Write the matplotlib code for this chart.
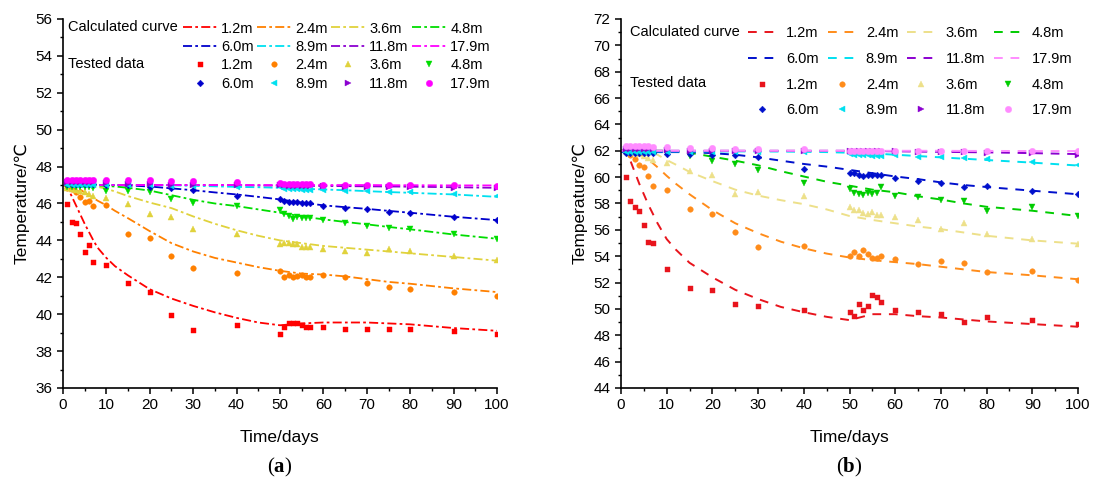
import matplotlib
matplotlib.use('Agg')
import matplotlib.pyplot as plt

plt.rcParams['font.family'] = ['Liberation Sans', 'DejaVu Sans']
plt.rcParams['mathtext.fontset'] = 'custom'
plt.rcParams['mathtext.rm'] = 'Liberation Serif'
plt.rcParams['mathtext.bf'] = 'Liberation Serif:bold'

depths = ['1.2m', '2.4m', '3.6m', '4.8m', '6.0m', '8.9m', '11.8m', '17.9m']

# times of the calculated curves and of the tested data (days)
t_calc = [0, 1, 2, 3, 4, 5, 6, 7, 8, 10, 12, 15, 20, 25, 30, 35, 40, 45, 50, 55, 60, 65, 70, 75, 80, 90, 100]
t_test = [1, 2, 3, 4, 5, 6, 7, 10, 15, 20, 25, 30, 40, 50, 51, 52, 53, 54, 55, 56, 57, 60, 65, 70, 75, 80, 90, 100]

# ---- panel (a) calculated curves
calc_a_12 = [47.0, 46.9, 46.4, 45.9, 45.4, 44.9, 44.45, 44.0, 43.6, 43.05, 42.6, 42.1, 41.35, 40.85, 40.45, 40.1, 39.8, 39.55, 39.4, 39.5, 39.55, 39.55, 39.55, 39.5, 39.45, 39.25, 39.1]
calc_a_24 = [47.0, 47.0, 46.95, 46.85, 46.75, 46.6, 46.45, 46.3, 46.15, 45.9, 45.6, 45.2, 44.5, 43.85, 43.4, 43.05, 42.8, 42.55, 42.35, 42.2, 42.15, 42.05, 41.9, 41.75, 41.65, 41.4, 41.2]
calc_a_36 = [47.0, 47.0, 47.0, 47.0, 46.98, 46.96, 46.94, 46.92, 46.9, 46.8, 46.65, 46.4, 46.05, 45.75, 45.3, 44.9, 44.55, 44.25, 44.0, 43.85, 43.7, 43.6, 43.5, 43.4, 43.3, 43.1, 42.9]
calc_a_48 = [47.0, 47.0, 47.0, 47.0, 47.0, 47.0, 47.0, 46.98, 46.97, 46.95, 46.92, 46.85, 46.7, 46.45, 46.2, 46.0, 45.86, 45.68, 45.5, 45.3, 45.14, 45.0, 44.87, 44.73, 44.6, 44.32, 44.09]
calc_a_60 = [47.0, 47.0, 47.0, 47.0, 47.0, 47.0, 47.0, 47.0, 47.0, 47.0, 47.0, 46.98, 46.92, 46.82, 46.72, 46.6, 46.49, 46.36, 46.22, 46.05, 45.9, 45.8, 45.71, 45.6, 45.5, 45.28, 45.1]
calc_a_89 = [47.0, 47.0, 47.0, 47.0, 47.0, 47.0, 47.0, 47.0, 47.0, 47.0, 47.0, 47.0, 47.0, 46.98, 46.96, 46.93, 46.9, 46.88, 46.85, 46.8, 46.76, 46.72, 46.67, 46.62, 46.58, 46.49, 46.36]
calc_a_118 = [47.0, 47.0, 47.0, 47.0, 47.0, 47.0, 47.0, 47.0, 47.0, 47.0, 47.0, 47.0, 47.0, 47.0, 47.0, 47.0, 47.0, 46.98, 46.97, 46.96, 46.95, 46.94, 46.93, 46.92, 46.91, 46.88, 46.85]
calc_a_179 = [47.0, 47.0, 47.0, 47.0, 47.0, 47.0, 47.0, 47.0, 47.0, 47.0, 47.0, 47.0, 47.0, 47.0, 47.0, 47.0, 47.0, 47.0, 47.0, 47.0, 47.0, 47.0, 47.0, 46.99, 46.99, 46.98, 46.98]

# ---- panel (a) tested data
test_a_12 = [45.95, 45.0, 44.95, 44.35, 43.35, 43.75, 42.85, 42.65, 41.7, 41.2, 39.95, 39.15, 39.42, 38.95, 39.32, 39.5, 39.5, 39.5, 39.4, 39.3, 39.3, 39.3, 39.2, 39.2, 39.2, 39.2, 39.1, 38.9]
test_a_24 = [46.85, 46.8, 46.6, 46.35, 46.1, 46.15, 45.85, 45.9, 44.32, 44.12, 43.15, 42.52, 42.25, 42.34, 41.99, 42.11, 41.99, 42.08, 42.1, 41.99, 41.99, 42.1, 42.0, 41.68, 41.5, 41.39, 41.21, 41.0]
test_a_36 = [46.85, 46.8, 46.75, 46.7, 46.6, 46.5, 46.4, 46.3, 45.98, 45.42, 45.28, 44.6, 44.34, 43.78, 43.87, 43.87, 43.78, 43.78, 43.66, 43.66, 43.66, 43.51, 43.42, 43.33, 43.51, 43.42, 43.15, 42.94]
test_a_48 = [46.9, 46.9, 46.88, 46.88, 46.87, 46.87, 46.86, 46.7, 46.67, 46.61, 46.26, 46.04, 45.86, 45.64, 45.41, 45.33, 45.17, 45.27, 45.23, 45.2, 45.2, 45.1, 44.92, 44.78, 44.69, 44.6, 44.32, 44.09]
test_a_60 = [47.07, 47.07, 47.07, 47.07, 47.07, 47.07, 47.07, 46.98, 46.98, 46.92, 46.85, 46.72, 46.43, 46.22, 46.13, 46.1, 46.08, 46.06, 46.04, 46.0, 46.0, 45.86, 45.77, 45.68, 45.55, 45.46, 45.28, 45.1]
test_a_89 = [47.02, 47.02, 47.02, 47.02, 47.02, 47.02, 47.02, 47.0, 47.0, 46.98, 46.95, 46.95, 46.9, 46.87, 46.8, 46.78, 46.77, 46.76, 46.75, 46.75, 46.75, 46.74, 46.7, 46.68, 46.63, 46.6, 46.5, 46.38]
test_a_118 = [47.15, 47.15, 47.15, 47.15, 47.15, 47.15, 47.15, 47.1, 47.05, 47.05, 47.02, 47.0, 47.0, 47.0, 46.98, 46.97, 46.97, 46.96, 46.96, 46.95, 46.95, 46.93, 46.92, 46.9, 46.9, 46.88, 46.86, 46.84]
test_a_179 = [47.3, 47.3, 47.3, 47.3, 47.3, 47.3, 47.3, 47.3, 47.28, 47.25, 47.22, 47.2, 47.17, 47.12, 47.08, 47.06, 47.05, 47.05, 47.05, 47.04, 47.04, 47.02, 47.0, 47.0, 46.98, 46.98, 46.98, 46.95]

# ---- panel (b) calculated curves
calc_b_12 = [62.0, 62.0, 61.3, 60.4, 59.5, 58.7, 57.9, 57.2, 56.5, 55.3, 54.5, 53.5, 52.4, 51.45, 50.75, 50.15, 49.75, 49.4, 49.15, 49.6, 49.6, 49.45, 49.35, 49.2, 49.05, 48.85, 48.65]
calc_b_24 = [62.0, 62.0, 62.0, 61.95, 61.8, 61.6, 61.35, 61.05, 60.75, 60.1, 59.5, 58.7, 57.5, 56.5, 55.75, 55.1, 54.6, 54.2, 53.9, 53.7, 53.55, 53.4, 53.2, 53.0, 52.8, 52.55, 52.25]
calc_b_36 = [62.0, 62.0, 62.0, 62.0, 62.0, 62.0, 61.95, 61.85, 61.7, 61.3, 60.95, 60.4, 59.7, 59.05, 58.6, 58.25, 57.95, 57.55, 57.05, 56.75, 56.5, 56.25, 56.05, 55.8, 55.55, 55.2, 54.95]
calc_b_48 = [62.0, 62.0, 62.0, 62.0, 62.0, 62.0, 62.0, 62.0, 62.0, 62.0, 61.95, 61.85, 61.55, 61.25, 60.9, 60.45, 60.05, 59.65, 59.35, 59.05, 58.85, 58.55, 58.3, 58.0, 57.75, 57.45, 57.05]
calc_b_60 = [61.9, 61.9, 61.9, 61.9, 61.9, 61.9, 61.9, 61.9, 61.9, 61.9, 61.9, 61.9, 61.82, 61.7, 61.5, 61.25, 61.0, 60.8, 60.55, 60.3, 60.05, 59.85, 59.6, 59.4, 59.25, 58.97, 58.7]
calc_b_89 = [61.95, 61.95, 61.95, 61.95, 61.95, 61.95, 61.95, 61.95, 61.95, 61.95, 61.95, 61.95, 61.95, 61.95, 61.95, 61.94, 61.92, 61.9, 61.85, 61.8, 61.7, 61.6, 61.5, 61.4, 61.3, 61.1, 60.88]
calc_b_118 = [62.0, 62.0, 62.0, 62.0, 62.0, 62.0, 62.0, 62.0, 62.0, 62.0, 62.0, 62.0, 62.0, 62.0, 62.0, 62.0, 62.0, 62.0, 62.0, 61.98, 61.96, 61.94, 61.92, 61.9, 61.88, 61.82, 61.75]
calc_b_179 = [62.0, 62.0, 62.0, 62.0, 62.0, 62.0, 62.0, 62.0, 62.0, 62.0, 62.0, 62.0, 62.0, 62.0, 62.0, 62.0, 62.0, 62.0, 62.0, 62.0, 62.0, 62.0, 62.0, 61.99, 61.99, 61.98, 61.98]

# ---- panel (b) tested data
test_b_12 = [60.0, 58.2, 57.7, 57.4, 56.35, 55.1, 55.0, 53.0, 51.62, 51.45, 50.34, 50.24, 49.93, 49.76, 49.45, 50.39, 49.93, 50.21, 51.02, 50.94, 50.5, 49.93, 49.76, 49.58, 49.0, 49.4, 49.15, 48.85]
test_b_24 = [61.9, 61.7, 61.4, 60.9, 60.75, 60.05, 59.35, 59.02, 57.6, 57.18, 55.8, 54.7, 54.78, 54.0, 54.3, 54.0, 54.5, 54.18, 53.85, 53.85, 54.0, 53.8, 53.42, 53.62, 53.5, 52.79, 52.91, 52.23]
test_b_36 = [61.95, 61.9, 61.85, 61.75, 61.6, 61.45, 61.3, 61.05, 60.45, 60.18, 58.75, 58.85, 58.6, 57.71, 57.5, 57.5, 57.3, 57.2, 57.37, 57.1, 57.1, 56.95, 56.78, 56.04, 56.5, 55.68, 55.28, 54.93]
test_b_48 = [61.92, 61.92, 61.9, 61.9, 61.88, 61.88, 61.85, 61.72, 61.6, 61.22, 60.96, 60.53, 59.58, 59.07, 58.82, 58.7, 58.65, 58.82, 58.7, 58.77, 59.22, 58.6, 58.5, 58.3, 58.2, 57.4, 57.75, 57.05]
test_b_60 = [61.8, 61.8, 61.8, 61.8, 61.8, 61.8, 61.8, 61.75, 61.75, 61.7, 61.65, 61.5, 60.64, 60.34, 60.34, 60.17, 60.05, 60.2, 60.17, 60.2, 60.17, 59.9, 59.67, 59.52, 59.22, 59.32, 58.92, 58.72]
test_b_89 = [61.88, 61.88, 61.88, 61.88, 61.88, 61.88, 61.88, 61.88, 61.88, 61.88, 61.88, 61.88, 61.88, 61.75, 61.7, 61.68, 61.65, 61.65, 61.63, 61.62, 61.62, 61.65, 61.55, 61.5, 61.42, 61.35, 61.12, 60.9]
test_b_118 = [62.1, 62.1, 62.1, 62.1, 62.1, 62.1, 62.1, 62.05, 62.0, 62.0, 62.0, 62.0, 62.0, 62.0, 61.98, 61.98, 61.98, 61.98, 61.97, 61.97, 61.97, 61.96, 61.94, 61.9, 61.88, 61.86, 61.8, 61.7]
test_b_179 = [62.4, 62.4, 62.38, 62.36, 62.35, 62.33, 62.32, 62.3, 62.22, 62.2, 62.15, 62.12, 62.1, 62.02, 62.02, 62.02, 62.02, 62.02, 62.02, 62.02, 62.02, 62.0, 61.98, 61.98, 61.98, 61.96, 61.96, 61.95]

calc_a = [calc_a_12, calc_a_24, calc_a_36, calc_a_48, calc_a_60, calc_a_89, calc_a_118, calc_a_179]
test_a = [test_a_12, test_a_24, test_a_36, test_a_48, test_a_60, test_a_89, test_a_118, test_a_179]
calc_b = [calc_b_12, calc_b_24, calc_b_36, calc_b_48, calc_b_60, calc_b_89, calc_b_118, calc_b_179]
test_b = [test_b_12, test_b_24, test_b_36, test_b_48, test_b_60, test_b_89, test_b_118, test_b_179]

colors_a = ['#FF0000', '#FF8000', '#E0D23C', '#00DD00', '#0000CC', '#00E0F0', '#8B00D0', '#FF00FF']
colors_b = ['#E8141C', '#FF8C1A', '#EDE08A', '#00CC00', '#0010CC', '#00E0F0', '#8B00D0', '#FF8CFF']
markers = ['s', 'o', '^', 'v', 'D', '<', '>', 'o']
msizes = [3.6, 4.0, 4.0, 4.0, 3.4, 4.0, 4.0, 4.6]

fig = plt.figure(figsize=(10.95, 4.87), dpi=100)
ax_a = fig.add_axes([0.0575, 0.2033, 0.3964, 0.7577])
ax_b = fig.add_axes([0.5671, 0.2033, 0.4174, 0.7577])


def draw(ax, calc, test, colors, dashes, lw, ylim, leg, lab_x, lab_y, tag):
    lines = []
    pts = []
    for i in range(8):
        ln, = ax.plot(t_calc, calc[i], color=colors[i], lw=lw, dashes=dashes, zorder=2)
        lines.append(ln)
        p, = ax.plot(t_test, test[i], ls='none', marker=markers[i], ms=msizes[i], color=colors[i],
                     markeredgewidth=0.3, zorder=3)
        pts.append(p)
    ax.set_xlim(0, 100)
    ax.set_ylim(*ylim)
    ax.set_xticks(range(0, 101, 10))
    ax.set_xticks(range(0, 101, 5), minor=True)
    ax.set_yticks(range(ylim[0], ylim[1] + 1, 2))
    ax.set_yticks(range(ylim[0], ylim[1] + 1, 1), minor=True)
    ax.spines['top'].set_visible(False)
    ax.spines['right'].set_visible(False)
    for s in ['left', 'bottom']:
        ax.spines[s].set_linewidth(1.2)
    ax.tick_params(which='major', direction='out', length=4, width=1.1, labelsize=11)
    ax.tick_params(which='minor', direction='out', length=2.5, width=1.0)
    ax.set_xlabel('Time/days', fontsize=12.5, labelpad=13)
    ax.set_ylabel('Temperature/℃', fontsize=12.5, labelpad=4)

    # legend: column-major order so rows read calc 1-4, calc 5-8, test 1-4, test 5-8
    handles = []
    labels = []
    for j in range(4):
        handles += [lines[j], lines[j + 4], pts[j], pts[j + 4]]
        labels += [depths[j], depths[j + 4], depths[j], depths[j + 4]]
    ax.legend(handles, labels, ncol=4, loc='upper left', bbox_to_anchor=(leg[0], leg[1]),
              frameon=False, fontsize=10.5, handlelength=leg[2], handletextpad=leg[3],
              columnspacing=leg[4], labelspacing=leg[5], borderpad=0, borderaxespad=0)
    ax.text(lab_x, lab_y[0], 'Calculated curve', transform=ax.transAxes, fontsize=10.5, va='center')
    ax.text(lab_x, lab_y[1], 'Tested data', transform=ax.transAxes, fontsize=10.5, va='center')
    pos = ax.get_position()
    fig.text((pos.x0 + pos.x1) / 2, 0.04, '(' + r'$\mathbf{' + tag + '}$' + ')',
             ha='center', va='center', fontsize=15, family='Liberation Serif')


draw(ax_a, calc_a, test_a, colors_a, (5, 1.8, 1.5, 1.8), 1.3, (36, 56),
     (0.2765, 0.993, 2.3, 0.3, 0.25, 0.3), 0.011, (0.978, 0.878), 'a')
draw(ax_b, calc_b, test_b, colors_b, (4.5, 4), 1.4, (44, 72),
     (0.278, 0.98, 1.92, 0.69, 0.62, 0.8), 0.0197, (0.965, 0.8266), 'b')

fig.savefig('out.png', dpi=100)
